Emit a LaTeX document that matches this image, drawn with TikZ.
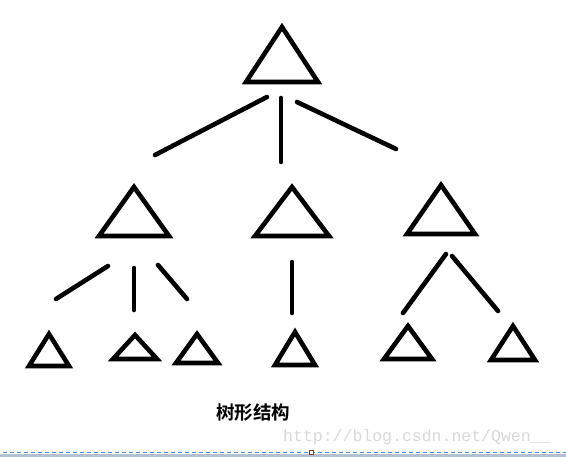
\documentclass[tikz,border=0pt]{standalone}
\usepackage{fontspec}
\newfontfamily\cjk{Noto Sans CJK SC}[BoldFont={Noto Sans CJK SC Bold}]
\newfontfamily\wmfont{Liberation Mono}
\definecolor{barcol}{HTML}{B4C0D4}
\definecolor{dashcol}{HTML}{4A90E2}
\begin{document}
\begin{tikzpicture}[x=1pt,y=-1pt,
  tri/.style={draw=black,line width=4.6pt,line join=miter},
  edge/.style={draw=black,line width=4.6pt,line cap=round}]
\useasboundingbox[fill=white] (0,0) rectangle (566,457);
% triangles
\newcommand\tri[4]{\draw[tri] (#1,#2) -- (#1-#3,#2+#4) -- (#1+#3,#2+#4) -- cycle;}
\tri{282}{27}{36}{55}
\tri{134}{187}{35}{49}
\tri{292}{187}{37}{49}
\tri{441}{185}{34}{49}
\tri{49}{334}{20}{32}
\tri{135}{335}{22}{24}
\tri{197}{334}{21}{29}
\tri{295}{332}{20}{33}
\tri{408}{326}{24}{33}
\tri{513}{326}{22}{34}
% connector end points
\coordinate (a1) at (267,97);  \coordinate (b1) at (155,155);
\coordinate (a2) at (281,98);  \coordinate (b2) at (281,162);
\coordinate (a3) at (297,102); \coordinate (b3) at (396,149);
\coordinate (c1) at (108,266); \coordinate (d1) at (56,299);
\coordinate (c2) at (134,268); \coordinate (d2) at (134,310);
\coordinate (c3) at (158,265); \coordinate (d3) at (187,299);
\coordinate (e1) at (292,262); \coordinate (f1) at (292,313);
\coordinate (g1) at (446,254); \coordinate (h1) at (403,313);
\coordinate (g2) at (452,256); \coordinate (h2) at (498,311);
\draw[edge] (a1) -- (b1);
\draw[edge] (a2) -- (b2);
\draw[edge] (a3) -- (b3);
\draw[edge] (c1) -- (d1);
\draw[edge] (c2) -- (d2);
\draw[edge] (c3) -- (d3);
\draw[edge] (e1) -- (f1);
\draw[edge] (g1) -- (h1);
\draw[edge] (g2) -- (h2);
% caption
\node[font=\cjk\bfseries\fontsize{18.5}{18.5}\selectfont,inner sep=0] (cap) at (253,413) {树形结构};
\node[font=\wmfont\fontsize{16.5}{16.5}\selectfont,text=black!15,inner sep=0,anchor=west] (wm) at (283,437) {http://blog.csdn.net/Qwen\_\_};
% bottom bar
\fill[barcol] (0,454.5) rectangle (566,457);
\draw[dashcol,line width=1pt,dash pattern=on 4pt off 3pt] (3,453) -- (566,453);
\node[draw=brown!60!black,fill=white,line width=0.6pt,minimum size=4pt,inner sep=0] (sq) at (311,452.5) {};
\end{tikzpicture}
\end{document}
